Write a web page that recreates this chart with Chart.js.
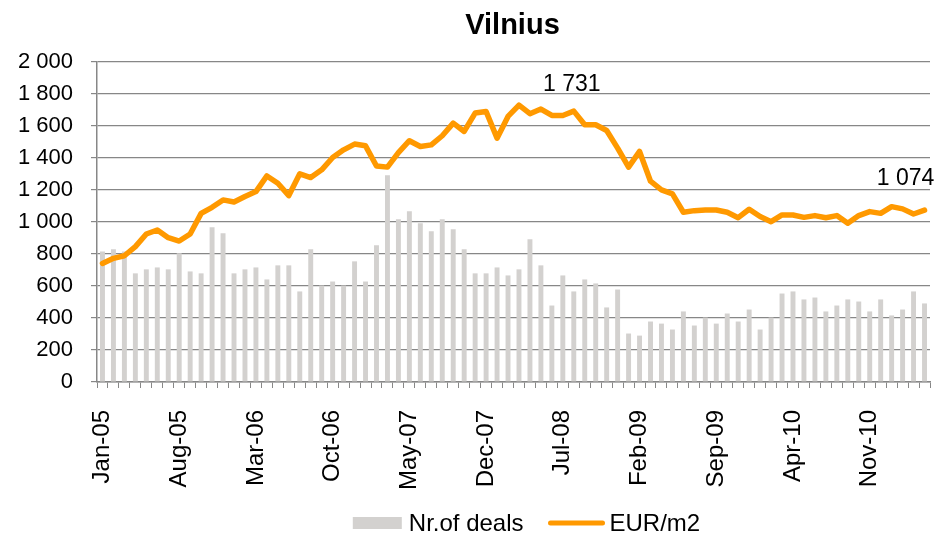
<!DOCTYPE html>
<html>
<head>
<meta charset="utf-8">
<script src="https://cdn.jsdelivr.net/npm/chart.js@4.4.0/dist/chart.umd.min.js"></script>
<style>
    html, body { margin: 0; padding: 0; background: #fff; }
    #wrap { width: 939px; height: 535px; }
</style>
</head>
<body>
<div id="wrap"><canvas id="vilniusChart"></canvas></div>
<script>
const months = ['Jan', 'Feb', 'Mar', 'Apr', 'May', 'Jun', 'Jul', 'Aug', 'Sep', 'Oct', 'Nov', 'Dec']

// Jan-05 .. Apr-11
const labels = []
for (let y = 5; y <= 11; y++) {
    months.forEach(m => labels.push(m + '-' + String(y).padStart(2, '0')))
}
labels.length = 76

const deals = [
    816, 829, 816, 679, 704, 716, 704, 804, 691, 679, 967, 929, 679, 704, 716, 641,
    729, 729, 566, 829, 603, 628, 603, 754, 628, 854, 1292, 1017, 1067, 992, 942, 1017,
    954, 829, 679, 679, 716, 666, 704, 892, 729, 478, 666, 566, 641, 616, 466, 578,
    303, 290, 378, 365, 328, 441, 353, 403, 365, 428, 378, 453, 328, 403, 553, 566,
    516, 528, 441, 478, 516, 503, 441, 516, 416, 453, 566, 491
]

const pricePerM2 = [
    741, 773, 789, 846, 925, 950, 902, 881, 925, 1054, 1092, 1138, 1125, 1159, 1190, 1288,
    1242, 1165, 1301, 1278, 1326, 1403, 1451, 1487, 1476, 1350, 1343, 1434, 1508, 1472, 1482, 1539,
    1618, 1566, 1681, 1691, 1524, 1660, 1731, 1677, 1706, 1666, 1666, 1693, 1608, 1608, 1572, 1462,
    1343, 1441, 1255, 1201, 1176, 1061, 1071, 1075, 1075, 1061, 1027, 1080, 1034, 1002, 1044, 1044,
    1029, 1040, 1027, 1040, 992, 1040, 1065, 1054, 1096, 1082, 1050, 1074
]

const yTicks = [0, 200, 400, 600, 800, 1000, 1200, 1400, 1600, 1800, 2000]

// value labels: text, category index, value where the text sits, x shift
const valueLabels = [
    { text: '1 731', index: 43, value: 1860, dx: -2 },
    { text: '1 074', index: 75, value: 1270, dx: -19 }
]

const FONT = '"Liberation Sans", Arial, sans-serif'
const GRID = '#878787'
const BAR_COLOR = '#d3d1cf'
const LINE_COLOR = '#ff9900'

const fmt = v => String(v).replace(/\B(?=(\d{3})+(?!\d))/g, ' ')

// title, value labels and legend, placed against the chart area like the original
const decorPlugin = {
    id: 'decor',
    afterDatasetsDraw(chart) {
        const { ctx, chartArea: area, scales: { x, y } } = chart
        const cx = (area.left + area.right) / 2
        ctx.save()
        ctx.fillStyle = '#000'
        ctx.textBaseline = 'middle'

        ctx.font = 'bold 29px ' + FONT
        ctx.textAlign = 'center'
        ctx.fillText('Vilnius', cx - 1, 26)

        ctx.font = '23px ' + FONT
        valueLabels.forEach(l => {
            ctx.fillText(l.text, x.getPixelForValue(l.index) + l.dx, y.getPixelForValue(l.value))
        })

        // legend
        ctx.font = '24px ' + FONT
        ctx.textAlign = 'left'
        const names = chart.data.datasets.map(d => d.label)
        const w0 = ctx.measureText(names[0]).width
        const w1 = ctx.measureText(names[1]).width
        const total = 49 + 7 + w0 + 25 + 56 + 5 + w1
        let lx = cx + 13 - total / 2
        const ly = 523
        ctx.fillStyle = BAR_COLOR
        ctx.fillRect(lx, ly - 6, 49, 12)
        lx += 56
        ctx.fillStyle = '#000'
        ctx.fillText(names[0], lx, ly + 1)
        lx += w0 + 25
        ctx.strokeStyle = LINE_COLOR
        ctx.lineWidth = 5
        ctx.lineCap = 'round'
        ctx.beginPath()
        ctx.moveTo(lx + 2, ly)
        ctx.lineTo(lx + 54, ly)
        ctx.stroke()
        lx += 61
        ctx.fillText(names[1], lx, ly + 1)
        ctx.restore()
    }
}

new Chart(document.getElementById('vilniusChart'), {
    type: 'bar',
    data: {
        labels: labels,
        datasets: [
            {
                label: 'Nr.of deals',
                data: deals,
                backgroundColor: BAR_COLOR,
                borderWidth: 0,
                barPercentage: 0.45,
                categoryPercentage: 1,
                order: 2
            },
            {
                type: 'line',
                label: 'EUR/m2',
                data: pricePerM2,
                borderColor: LINE_COLOR,
                backgroundColor: LINE_COLOR,
                borderWidth: 5.5,
                borderJoinStyle: 'round',
                borderCapStyle: 'round',
                pointRadius: 0,
                tension: 0,
                order: 1
            }
        ]
    },
    options: {
        responsive: true,
        maintainAspectRatio: false,
        animation: false,
        layout: { padding: { left: 0, right: 9, top: 62, bottom: 35 } },
        plugins: {
            title: { display: false },
            legend: { display: false },
            tooltip: { enabled: false }
        },
        scales: {
            x: {
                offset: true,
                grid: {
                    offset: true,
                    drawOnChartArea: false,
                    drawTicks: true,
                    tickLength: 6,
                    color: GRID
                },
                border: { color: GRID, width: 1.5 },
                ticks: {
                    autoSkip: false,
                    maxRotation: 90,
                    minRotation: 90,
                    padding: 22,
                    color: '#000',
                    font: { family: FONT, size: 24 },
                    callback: (v, i) => i % 7 === 0 ? labels[i] : ''
                },
                afterFit(scale) {
                    scale.height = 118
                    scale.paddingLeft = 0
                    scale.paddingRight = 0
                }
            },
            y: {
                min: 0,
                max: 2000,
                afterBuildTicks(scale) { scale.ticks = yTicks.map(v => ({ value: v })) },
                grid: {
                    color: GRID,
                    lineWidth: 1.2,
                    tickLength: 6
                },
                border: { color: GRID, width: 1.5 },
                ticks: {
                    padding: 18,
                    color: '#000',
                    font: { family: FONT, size: 22 },
                    callback: v => fmt(v)
                },
                afterFit(scale) { scale.width = 97 }
            }
        }
    },
    plugins: [decorPlugin]
})
</script>
</body>
</html>
